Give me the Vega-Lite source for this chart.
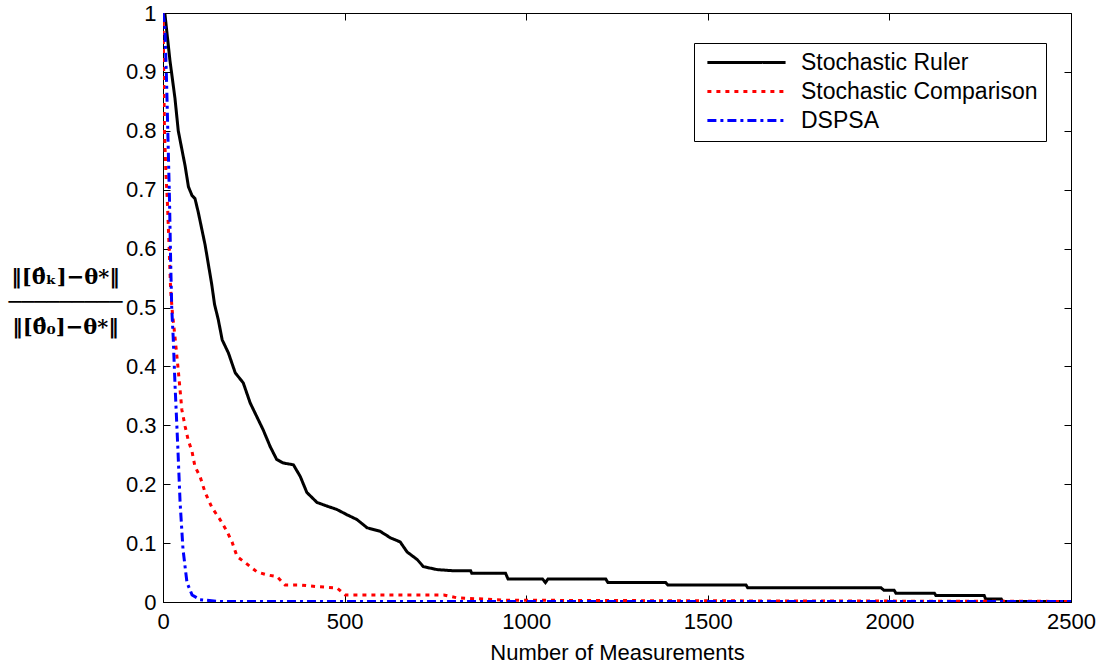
{
  "$schema": "https://vega.github.io/schema/vega-lite/v6.json",
  "width": 908,
  "height": 589,
  "autosize": {"type": "none"},
  "padding": {"left": 163, "top": 13, "right": 35, "bottom": 63},
  "background": "white",
  "config": {
    "view": {"stroke": "black", "strokeWidth": 1},
    "font": "Liberation Sans",
    "axis": {
      "grid": false,
      "labelFlush": false,
      "domainColor": "black",
      "tickColor": "black",
      "tickSize": -7,
      "labelColor": "black",
      "labelFont": "Liberation Sans",
      "labelFontSize": 22,
      "titleColor": "black",
      "titleFont": "Liberation Sans",
      "titleFontSize": 22,
      "titleFontWeight": "normal"
    },
    "legend": {
      "orient": "none",
      "legendX": 531,
      "legendY": 30,
      "strokeColor": "black",
      "fillColor": "white",
      "padding": 8,
      "symbolOffset": 1,
      "symbolType": "M-1,0H10",
      "symbolStrokeWidth": 3,
      "symbolSize": 202,
      "labelFont": "Liberation Sans",
      "labelFontSize": 23,
      "labelColor": "black",
      "labelOffset": 75,
      "rowPadding": 5,
      "labelLimit": 400
    }
  },
  "data": {
    "values": [
      {"series": "Stochastic Ruler", "x": 0, "y": 1.0},
      {"series": "Stochastic Ruler", "x": 5, "y": 1.0},
      {"series": "Stochastic Ruler", "x": 19, "y": 0.92},
      {"series": "Stochastic Ruler", "x": 33, "y": 0.855},
      {"series": "Stochastic Ruler", "x": 42, "y": 0.8},
      {"series": "Stochastic Ruler", "x": 61, "y": 0.74},
      {"series": "Stochastic Ruler", "x": 70, "y": 0.705},
      {"series": "Stochastic Ruler", "x": 80, "y": 0.69},
      {"series": "Stochastic Ruler", "x": 88, "y": 0.685},
      {"series": "Stochastic Ruler", "x": 97, "y": 0.662},
      {"series": "Stochastic Ruler", "x": 116, "y": 0.606},
      {"series": "Stochastic Ruler", "x": 134, "y": 0.54},
      {"series": "Stochastic Ruler", "x": 142, "y": 0.505},
      {"series": "Stochastic Ruler", "x": 152, "y": 0.48},
      {"series": "Stochastic Ruler", "x": 163, "y": 0.445},
      {"series": "Stochastic Ruler", "x": 180, "y": 0.423},
      {"series": "Stochastic Ruler", "x": 199, "y": 0.389},
      {"series": "Stochastic Ruler", "x": 221, "y": 0.372},
      {"series": "Stochastic Ruler", "x": 240, "y": 0.338},
      {"series": "Stochastic Ruler", "x": 258, "y": 0.315},
      {"series": "Stochastic Ruler", "x": 276, "y": 0.292},
      {"series": "Stochastic Ruler", "x": 295, "y": 0.264},
      {"series": "Stochastic Ruler", "x": 313, "y": 0.242},
      {"series": "Stochastic Ruler", "x": 331, "y": 0.236},
      {"series": "Stochastic Ruler", "x": 359, "y": 0.233},
      {"series": "Stochastic Ruler", "x": 378, "y": 0.213},
      {"series": "Stochastic Ruler", "x": 396, "y": 0.186},
      {"series": "Stochastic Ruler", "x": 424, "y": 0.169},
      {"series": "Stochastic Ruler", "x": 451, "y": 0.163},
      {"series": "Stochastic Ruler", "x": 479, "y": 0.157},
      {"series": "Stochastic Ruler", "x": 507, "y": 0.148},
      {"series": "Stochastic Ruler", "x": 534, "y": 0.14},
      {"series": "Stochastic Ruler", "x": 562, "y": 0.126},
      {"series": "Stochastic Ruler", "x": 598, "y": 0.12},
      {"series": "Stochastic Ruler", "x": 626, "y": 0.109},
      {"series": "Stochastic Ruler", "x": 653, "y": 0.102},
      {"series": "Stochastic Ruler", "x": 672, "y": 0.085},
      {"series": "Stochastic Ruler", "x": 700, "y": 0.072},
      {"series": "Stochastic Ruler", "x": 717, "y": 0.06},
      {"series": "Stochastic Ruler", "x": 755, "y": 0.055},
      {"series": "Stochastic Ruler", "x": 800, "y": 0.053},
      {"series": "Stochastic Ruler", "x": 847, "y": 0.053},
      {"series": "Stochastic Ruler", "x": 850, "y": 0.049},
      {"series": "Stochastic Ruler", "x": 943, "y": 0.049},
      {"series": "Stochastic Ruler", "x": 950, "y": 0.039},
      {"series": "Stochastic Ruler", "x": 1045, "y": 0.039},
      {"series": "Stochastic Ruler", "x": 1053, "y": 0.033},
      {"series": "Stochastic Ruler", "x": 1060, "y": 0.039},
      {"series": "Stochastic Ruler", "x": 1219, "y": 0.039},
      {"series": "Stochastic Ruler", "x": 1225, "y": 0.033},
      {"series": "Stochastic Ruler", "x": 1384, "y": 0.033},
      {"series": "Stochastic Ruler", "x": 1390, "y": 0.029},
      {"series": "Stochastic Ruler", "x": 1605, "y": 0.029},
      {"series": "Stochastic Ruler", "x": 1610, "y": 0.024},
      {"series": "Stochastic Ruler", "x": 1977, "y": 0.024},
      {"series": "Stochastic Ruler", "x": 1985, "y": 0.02},
      {"series": "Stochastic Ruler", "x": 2013, "y": 0.02},
      {"series": "Stochastic Ruler", "x": 2018, "y": 0.015},
      {"series": "Stochastic Ruler", "x": 2124, "y": 0.015},
      {"series": "Stochastic Ruler", "x": 2128, "y": 0.011},
      {"series": "Stochastic Ruler", "x": 2261, "y": 0.011},
      {"series": "Stochastic Ruler", "x": 2265, "y": 0.005},
      {"series": "Stochastic Ruler", "x": 2308, "y": 0.005},
      {"series": "Stochastic Ruler", "x": 2312, "y": 0.001},
      {"series": "Stochastic Ruler", "x": 2500, "y": 0.001},
      {"series": "Stochastic Comparison", "x": 0, "y": 1.0},
      {"series": "Stochastic Comparison", "x": 2, "y": 0.9},
      {"series": "Stochastic Comparison", "x": 4, "y": 0.8},
      {"series": "Stochastic Comparison", "x": 8, "y": 0.73},
      {"series": "Stochastic Comparison", "x": 12, "y": 0.68},
      {"series": "Stochastic Comparison", "x": 17, "y": 0.6},
      {"series": "Stochastic Comparison", "x": 21, "y": 0.53},
      {"series": "Stochastic Comparison", "x": 26, "y": 0.49},
      {"series": "Stochastic Comparison", "x": 33, "y": 0.45},
      {"series": "Stochastic Comparison", "x": 41, "y": 0.4},
      {"series": "Stochastic Comparison", "x": 47, "y": 0.36},
      {"series": "Stochastic Comparison", "x": 52, "y": 0.326},
      {"series": "Stochastic Comparison", "x": 61, "y": 0.298},
      {"series": "Stochastic Comparison", "x": 69, "y": 0.276},
      {"series": "Stochastic Comparison", "x": 80, "y": 0.255},
      {"series": "Stochastic Comparison", "x": 88, "y": 0.23},
      {"series": "Stochastic Comparison", "x": 102, "y": 0.213},
      {"series": "Stochastic Comparison", "x": 116, "y": 0.186},
      {"series": "Stochastic Comparison", "x": 135, "y": 0.16},
      {"series": "Stochastic Comparison", "x": 157, "y": 0.14},
      {"series": "Stochastic Comparison", "x": 176, "y": 0.12},
      {"series": "Stochastic Comparison", "x": 190, "y": 0.102},
      {"series": "Stochastic Comparison", "x": 204, "y": 0.077},
      {"series": "Stochastic Comparison", "x": 226, "y": 0.067},
      {"series": "Stochastic Comparison", "x": 259, "y": 0.051},
      {"series": "Stochastic Comparison", "x": 287, "y": 0.046},
      {"series": "Stochastic Comparison", "x": 314, "y": 0.043},
      {"series": "Stochastic Comparison", "x": 336, "y": 0.029},
      {"series": "Stochastic Comparison", "x": 377, "y": 0.029},
      {"series": "Stochastic Comparison", "x": 424, "y": 0.026},
      {"series": "Stochastic Comparison", "x": 479, "y": 0.024},
      {"series": "Stochastic Comparison", "x": 502, "y": 0.012},
      {"series": "Stochastic Comparison", "x": 773, "y": 0.012},
      {"series": "Stochastic Comparison", "x": 810, "y": 0.007},
      {"series": "Stochastic Comparison", "x": 883, "y": 0.005},
      {"series": "Stochastic Comparison", "x": 950, "y": 0.003},
      {"series": "Stochastic Comparison", "x": 1500, "y": 0.002},
      {"series": "Stochastic Comparison", "x": 2500, "y": 0.001},
      {"series": "DSPSA", "x": 0, "y": 1.0},
      {"series": "DSPSA", "x": 5, "y": 0.98},
      {"series": "DSPSA", "x": 10, "y": 0.88},
      {"series": "DSPSA", "x": 14, "y": 0.78},
      {"series": "DSPSA", "x": 18, "y": 0.68},
      {"series": "DSPSA", "x": 21, "y": 0.58},
      {"series": "DSPSA", "x": 24, "y": 0.5},
      {"series": "DSPSA", "x": 28, "y": 0.45},
      {"series": "DSPSA", "x": 33, "y": 0.37},
      {"series": "DSPSA", "x": 41, "y": 0.26},
      {"series": "DSPSA", "x": 47, "y": 0.17},
      {"series": "DSPSA", "x": 55, "y": 0.09},
      {"series": "DSPSA", "x": 66, "y": 0.033},
      {"series": "DSPSA", "x": 80, "y": 0.012},
      {"series": "DSPSA", "x": 102, "y": 0.004},
      {"series": "DSPSA", "x": 150, "y": 0.001},
      {"series": "DSPSA", "x": 2500, "y": 0.001}
    ]
  },
  "layer": [
    {
      "mark": {"type": "line", "strokeWidth": 3, "clip": true},
      "encoding": {
        "x": {
          "field": "x", "type": "quantitative",
          "scale": {"domain": [0, 2500], "nice": false, "zero": false},
          "axis": {"values": [0, 500, 1000, 1500, 2000, 2500], "format": "d", "title": "Number of Measurements", "labelPadding": 16, "titlePadding": 10}
        },
        "y": {
          "field": "y", "type": "quantitative",
          "scale": {"domain": [0, 1], "nice": false},
          "axis": {
            "values": [0, 0.1, 0.2, 0.3, 0.4, 0.5, 0.6, 0.7, 0.8, 0.9, 1],
            "format": "~g",
            "labelPadding": 14,
            "title": ["‖[θ̂ₖ]−θ*‖", "─────────", "‖[θ̂₀]−θ*‖"],
            "titleAngle": 0,
            "titleAlign": "center",
            "titleBaseline": "middle",
            "titleX": -98,
            "titleY": 264,
            "titleFont": "DejaVu Serif",
            "titleFontSize": 21,
            "titleFontWeight": "bold",
            "titleLineHeight": 25
          }
        },
        "color": {
          "field": "series", "type": "nominal",
          "scale": {"domain": ["Stochastic Ruler", "Stochastic Comparison", "DSPSA"], "range": ["#000000", "#ff0000", "#0000ff"]},
          "legend": {"title": null}
        },
        "strokeDash": {
          "field": "series", "type": "nominal",
          "scale": {"domain": ["Stochastic Ruler", "Stochastic Comparison", "DSPSA"], "range": [[1, 0], [4, 5], [9, 4, 3, 4]]},
          "legend": {"title": null}
        }
      }
    },
    {
      "mark": {"type": "line", "opacity": 0},
      "encoding": {
        "x": {"field": "x", "type": "quantitative", "axis": {"orient": "top", "values": [0, 500, 1000, 1500, 2000, 2500], "labels": false, "title": null, "domain": false}},
        "y": {"field": "y", "type": "quantitative", "axis": {"orient": "right", "values": [0, 0.1, 0.2, 0.3, 0.4, 0.5, 0.6, 0.7, 0.8, 0.9, 1], "labels": false, "title": null, "domain": false}},
        "detail": {"field": "series", "type": "nominal"}
      }
    }
  ],
  "resolve": {"axis": {"x": "independent", "y": "independent"}}
}
